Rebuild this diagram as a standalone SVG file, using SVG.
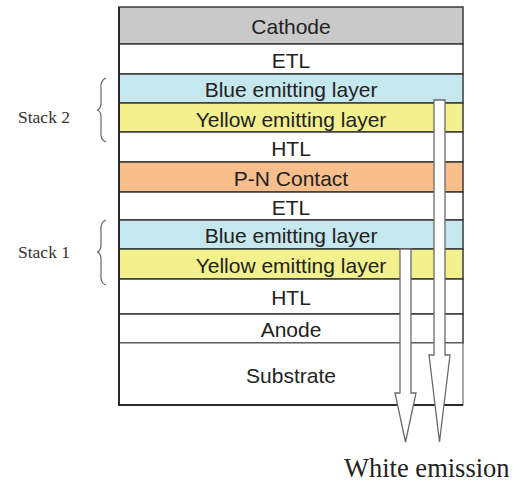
<svg xmlns="http://www.w3.org/2000/svg" width="523" height="483" viewBox="0 0 523 483">
<style>
.lay{stroke:#3a3a3a;stroke-width:1.5}
.lt{font-family:"Liberation Sans",Arial,sans-serif;font-size:21px;fill:#222;text-anchor:middle}
.st{font-family:"Liberation Serif","Times New Roman",serif;font-size:17.5px;fill:#333}
.br{fill:none;stroke:#666;stroke-width:1.2}
.arr{fill:#fff;stroke:#6a6a6a;stroke-width:1.3;stroke-linejoin:miter}
</style>
<rect width="523" height="483" fill="#fff"/>
<g id="cathode"><rect class="lay" x="119" y="7" width="344" height="37" fill="#c9c9c9"/><text class="lt" x="291" y="34">Cathode</text></g>
<g id="etl2"><rect class="lay" x="119" y="44" width="344" height="30" fill="#fff"/><text class="lt" x="291" y="67.5">ETL</text></g>
<g id="blue2"><rect class="lay" x="119" y="74" width="344" height="29" fill="#c5e7ee"/><text class="lt" x="291" y="97">Blue emitting layer</text></g>
<g id="yellow2"><rect class="lay" x="119" y="103" width="344" height="29" fill="#f3f08e"/><text class="lt" x="291" y="126.5">Yellow emitting layer</text></g>
<g id="htl2"><rect class="lay" x="119" y="132" width="344" height="30" fill="#fff"/><text class="lt" x="291" y="156">HTL</text></g>
<g id="pn"><rect class="lay" x="119" y="162" width="344" height="30" fill="#f8be8b"/><text class="lt" x="291" y="185.5">P-N Contact</text></g>
<g id="etl1"><rect class="lay" x="119" y="192" width="344" height="28" fill="#fff"/><text class="lt" x="291" y="214.5">ETL</text></g>
<g id="blue1"><rect class="lay" x="119" y="220" width="344" height="29" fill="#c5e7ee"/><text class="lt" x="291" y="243">Blue emitting layer</text></g>
<g id="yellow1"><rect class="lay" x="119" y="249" width="344" height="30" fill="#f3f08e"/><text class="lt" x="291" y="272.5">Yellow emitting layer</text></g>
<g id="htl1"><rect class="lay" x="119" y="279" width="344" height="35" fill="#fff"/><text class="lt" x="291" y="304.5">HTL</text></g>
<g id="anode"><rect class="lay" x="119" y="314" width="344" height="29" fill="#fff"/><text class="lt" x="291" y="337">Anode</text></g>
<g id="substrate"><rect x="119" y="343" width="344" height="62" fill="#fff" stroke="#555" stroke-width="1"/><text class="lt" x="291" y="383">Substrate</text></g>
<path d="M119 7V405H463" fill="none" stroke="#2a2a2a" stroke-width="2"/>
<g id="stack2"><path class="br" d="M106 78Q100 80 101 90V103Q101 109 97 110Q101 111 101 117V131Q100 140 106 142"/><text class="st" x="18" y="122.5">Stack 2</text></g>
<g id="stack1"><path class="br" d="M106 220Q100 222 101 232V245Q101 251 97 252Q101 253 101 259V274Q100 283 106 285"/><text class="st" x="18" y="257.5">Stack 1</text></g>
<g id="connectors">
<path class="arr" d="M434 100H445V355H450L439.5 442L429 355H434Z"/>
<path class="arr" d="M400 249H411V393H416L405.5 442L395 393H400Z"/>
</g>
<g id="white-emission"><text x="344" y="477" font-family="'Liberation Serif','Times New Roman',serif" font-size="26.5" fill="#222">White emission</text></g>
</svg>
